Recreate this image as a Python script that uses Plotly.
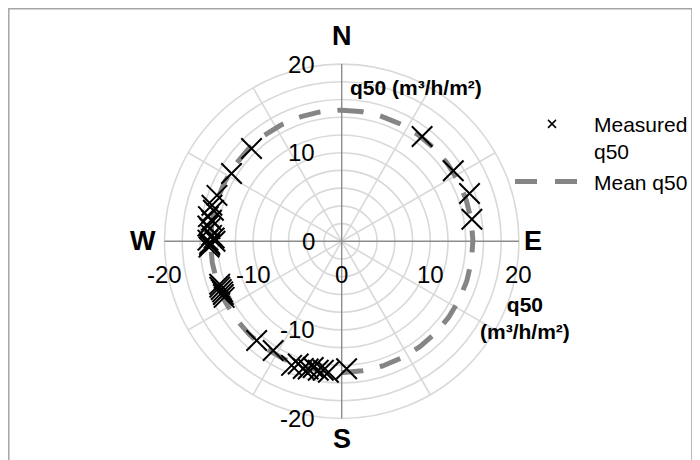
import numpy as np
import plotly.graph_objects as go

# ---------------- data ----------------
# measured q50 per facade bearing (degrees clockwise from North)
measured_bearing_deg = [37.5, 57.7, 69.5, 80.4,
                        315.8, 301.6, 290.2, 285.5, 283.6, 280.5, 279.2, 276.5,
                        275.5, 272.6, 270.5, 269.0, 268.3, 267.5, 271.5, 270.0,
                        244.5, 245.8, 247.0, 248.2, 249.4, 250.6,
                        220.6, 212.1, 202.0, 199.5, 196.8, 194.7, 192.7, 190.3,
                        188.1, 185.8, 177.8]
measured_q50 = [14.9, 14.9, 15.4, 14.9,
                14.6, 14.6, 15.0, 15.2, 14.9, 15.3, 14.9, 15.2,
                14.95, 14.7, 15.1, 14.9, 14.9, 15.0, 14.4, 14.3,
                14.7, 14.65, 14.6, 14.65, 14.7, 14.6,
                14.75, 14.55, 15.1, 14.7, 15.0, 14.9, 14.6, 14.8,
                14.7, 14.85, 14.4]
mean_q50 = 14.8

axis_ticks = [-20, -10, 0, 10, 20]
axis_tick_labels = ["-20", "-10", "0", "10", "20"]
grid_radii = [2, 4, 6, 8, 10, 12, 14, 16, 18, 20]
spoke_bearings = [30, 60, 120, 150, 210, 240, 300, 330]
compass_labels = ["N", "E", "S", "W"]
compass_bearings = [0, 90, 180, 270]
compass_radius = [23.2, 21.6, 22.3, 22.4]
axis_title = "q50 (m³/h/m²)"

FONT = "Liberation Sans, Arial, sans-serif"
GRID = "#d9d9d9"
AXIS = "#8c8c8c"
MEAN_COLOR = "#858585"

# page body adds an 8px offset: the figure is drawn in a 692x452 box
W, H = 692, 452
CX, CY, SCALE = 333.7, 233.3, 8.86


def to_xy(bearing, r):
    b = np.radians(np.asarray(bearing, dtype=float))
    r = np.asarray(r, dtype=float)
    return r * np.sin(b), r * np.cos(b)


fig = go.Figure()

# polar grid
shapes = []
for r in grid_radii:
    shapes.append(dict(type="circle", xref="x", yref="y", x0=-r, x1=r, y0=-r, y1=r,
                       line=dict(color=GRID, width=1.6), layer="below"))
for b in spoke_bearings:
    ex, ey = to_xy([b], [grid_radii[-1]])
    shapes.append(dict(type="line", xref="x", yref="y", x0=0, y0=0, x1=float(ex[0]), y1=float(ey[0]),
                       line=dict(color=GRID, width=1.6), layer="below"))
lim = axis_ticks[-1]
shapes.append(dict(type="line", xref="x", yref="y", x0=-lim, x1=lim, y0=0, y1=0,
                   line=dict(color=AXIS, width=1.4), layer="below"))
shapes.append(dict(type="line", xref="x", yref="y", x0=0, x1=0, y0=-lim, y1=lim,
                   line=dict(color=AXIS, width=1.4), layer="below"))
# chart border
shapes.append(dict(type="rect", xref="paper", yref="paper", x0=0.8 / W, x1=684 / W,
                   y0=-0.05, y1=1 - 0.8 / H, line=dict(color="#a6a6a6", width=1.5), layer="below"))

# mean curve (constant mean value around all bearings)
ang = np.linspace(0, 360, 361)
mx, my = to_xy(ang, np.full(ang.shape, mean_q50))
fig.add_trace(go.Scatter(x=mx, y=my, mode="lines", name="Mean q50",
                         line=dict(color=MEAN_COLOR, width=5, dash="22px,17px"),
                         hoverinfo="skip", showlegend=False))

# measured points
px_, py_ = to_xy(measured_bearing_deg, measured_q50)
fig.add_trace(go.Scatter(x=px_, y=py_, mode="markers", name="Measured q50",
                         marker=dict(symbol="x-thin", size=20.5, color="black",
                                     line=dict(color="black", width=2)),
                         showlegend=False))

# legend entries
fig.add_trace(go.Scatter(x=[None], y=[None], mode="markers", name="Measured<br>q50",
                         marker=dict(symbol="x-thin", size=8, color="black",
                                     line=dict(color="black", width=1.5))))
fig.add_trace(go.Scatter(x=[None], y=[None], mode="lines", name="Mean q50",
                         line=dict(color=MEAN_COLOR, width=5, dash="22px,18px")))

annotations = []
tick_font = dict(family=FONT, size=24, color="black")
for v, t in zip(axis_ticks, axis_tick_labels):
    # labels of the vertical axis
    annotations.append(dict(x=-2.75, y=v, xref="x", yref="y", text=t, showarrow=False,
                            xanchor="right", yanchor="middle", font=tick_font))
    # labels of the horizontal axis
    annotations.append(dict(x=v, y=-3.8, xref="x", yref="y", text=t, showarrow=False,
                            xanchor="center", yanchor="middle", font=tick_font))
for lab, b, r in zip(compass_labels, compass_bearings, compass_radius):
    cx, cy = to_xy([b], [r])
    annotations.append(dict(x=float(cx[0]), y=float(cy[0]), xref="x", yref="y", text="<b>%s</b>" % lab,
                            showarrow=False, xanchor="center", yanchor="middle",
                            font=dict(family=FONT, size=27, color="black")))
title_font = dict(family=FONT, size=21, color="black")
annotations.append(dict(x=0.7, y=17.4, xref="x", yref="y", text="<b>%s</b>" % axis_title,
                        showarrow=False, xanchor="left", yanchor="middle", font=title_font))
annotations.append(dict(x=20.7, y=-8.6, xref="x", yref="y",
                        text="<b>q50</b><br><b>(m³/h/m²)</b>", showarrow=False,
                        xanchor="center", yanchor="middle", align="center", font=title_font))

xr = [(0 - CX) / SCALE, (W - CX) / SCALE]
yr = [(CY - H) / SCALE, CY / SCALE]

fig.update_layout(
    width=W, height=H,
    margin=dict(l=0, r=0, t=0, b=0),
    paper_bgcolor="white", plot_bgcolor="white",
    xaxis=dict(range=xr, visible=False, fixedrange=True),
    yaxis=dict(range=yr, visible=False, fixedrange=True),
    shapes=shapes,
    annotations=annotations,
    showlegend=True,
    legend=dict(x=502 / W, y=1 - 95.7 / H, xanchor="left", yanchor="top",
                font=dict(family=FONT, size=21, color="black"),
                itemwidth=74, valign="top", bgcolor="rgba(0,0,0,0)",
                tracegroupgap=0),
)

fig.write_html("out.html")
